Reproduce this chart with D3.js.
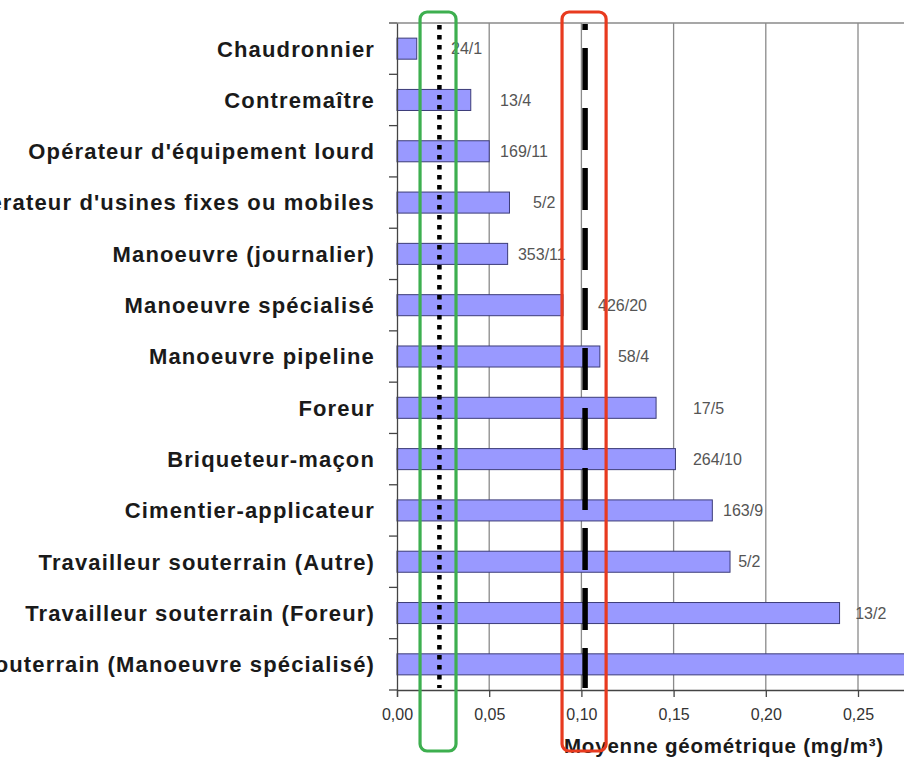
<!DOCTYPE html>
<html lang="fr">
<head>
<meta charset="utf-8">
<title>Moyenne géométrique par métier</title>
<script src="https://d3js.org/d3.v7.min.js"></script>
<style>
  body { margin: 0; background: #fff; }
  svg { display: block; font-family: "Liberation Sans", Arial, sans-serif; }
</style>
</head>
<body>
<div id="chart"></div>
<script>
// métiers (haut -> bas)
var categories = [
  "Chaudronnier",
  "Contremaître",
  "Opérateur d'équipement lourd",
  "Opérateur d'usines fixes ou mobiles",
  "Manoeuvre (journalier)",
  "Manoeuvre spécialisé",
  "Manoeuvre pipeline",
  "Foreur",
  "Briqueteur-maçon",
  "Cimentier-applicateur",
  "Travailleur souterrain (Autre)",
  "Travailleur souterrain (Foreur)",
  "Travailleur souterrain (Manoeuvre spécialisé)"
];
// moyenne géométrique (mg/m³)
var values = [0.0107, 0.040, 0.050, 0.061, 0.060, 0.090, 0.110, 0.1405, 0.151, 0.171, 0.1806, 0.240, 0.310];
// n / nombre de chantiers
var counts = ["24/1", "13/4", "169/11", "5/2", "353/11", "426/20", "58/4", "17/5", "264/10", "163/9", "5/2", "13/2", ""];
// where each count label sits, in mg/m³
var countAt = [0.0293, 0.0559, 0.0559, 0.0738, 0.0656, 0.109, 0.1198, 0.1605, 0.1605, 0.1768, 0.185, 0.2485, 0.32];
var xTicks = [0, 0.05, 0.10, 0.15, 0.20, 0.25];
// reference lines (mg/m³)
var dottedLine = 0.023;
var dashedLine = 0.102;
// highlight boxes [from, to] in mg/m³
var greenBox = [0.0125, 0.0320];
var redBox = [0.0895, 0.1134];

var W = 904, H = 761;
var margin = {top: 23, left: 397, bottom: 71};
var plotBottom = H - margin.bottom;

var svg = d3.select("#chart").append("svg")
    .attr("width", W)
    .attr("height", H);

var x = d3.scaleLinear().domain([0, 0.30]).range([margin.left, margin.left + 0.30 * 1844]);
var y = d3.scaleBand().domain(categories).range([margin.top, plotBottom])
    .paddingInner(0.59).paddingOuter(0.295);

var fr = d3.formatLocale({decimal: ",", thousands: " ", grouping: [3], currency: ["", " €"]});
var fmt = fr.format(".2f");

// gridlines
svg.append("g").selectAll("line")
  .data(xTicks.slice(1).concat([0.30]))
  .join("line")
    .attr("x1", d => x(d)).attr("x2", d => x(d))
    .attr("y1", margin.top).attr("y2", plotBottom)
    .attr("stroke", "#8a8a8a")
    .attr("stroke-width", 1.3);
svg.append("line")
    .attr("x1", margin.left).attr("x2", W)
    .attr("y1", margin.top).attr("y2", margin.top)
    .attr("stroke", "#8a8a8a")
    .attr("stroke-width", 1.3);

// bars
svg.append("g").selectAll("rect")
  .data(values)
  .join("rect")
    .attr("x", x(0))
    .attr("y", (d, i) => y(categories[i]))
    .attr("width", d => x(d) - x(0))
    .attr("height", y.bandwidth())
    .attr("fill", "#9999ff")
    .attr("stroke", "#3c3c78")
    .attr("stroke-width", 1);

// count labels
svg.append("g").selectAll("text")
  .data(counts)
  .join("text")
    .attr("x", (d, i) => x(countAt[i]))
    .attr("y", (d, i) => y(categories[i]) + y.bandwidth() / 2)
    .attr("dy", "0.36em")
    .attr("fill", "#555")
    .style("font-size", "16px")
    .text(d => d);

// y axis
var yAxis = svg.append("g")
    .attr("transform", "translate(" + margin.left + ",0)")
    .call(d3.axisLeft(y).tickSize(0).tickPadding(22));
yAxis.select(".domain").attr("stroke", "#444").attr("stroke-width", 1.3);
yAxis.selectAll("text")
    .attr("fill", "#1a1a1a")
    .style("font-size", "22px")
    .style("font-weight", "bold")
    .style("letter-spacing", "1.15px")
    .attr("dy", "0.36em");
// category separators on the axis
svg.append("g").selectAll("line")
  .data(d3.range(categories.length + 1))
  .join("line")
    .attr("x1", margin.left - 8).attr("x2", margin.left)
    .attr("y1", i => margin.top + i * y.step())
    .attr("y2", i => margin.top + i * y.step())
    .attr("stroke", "#444")
    .attr("stroke-width", 1.3);

// x axis
var xAxis = svg.append("g")
    .attr("transform", "translate(0," + plotBottom + ")")
    .call(d3.axisBottom(x).tickValues(xTicks).tickFormat(fmt).tickSize(7).tickPadding(12));
xAxis.select(".domain").attr("stroke", "#444").attr("stroke-width", 1.3);
xAxis.selectAll(".tick line").attr("stroke", "#444").attr("stroke-width", 1.3);
xAxis.selectAll("text")
    .attr("fill", "#333")
    .style("font-size", "16px");

svg.append("text")
    .attr("x", 724)
    .attr("y", 753)
    .attr("text-anchor", "middle")
    .attr("fill", "#1a1a1a")
    .style("font-size", "20.5px")
    .style("font-weight", "bold")
    .style("letter-spacing", "0.8px")
    .text("Moyenne géométrique (mg/m³)");

// reference lines
svg.append("line")
    .attr("x1", x(dottedLine)).attr("x2", x(dottedLine))
    .attr("y1", margin.top + 2).attr("y2", plotBottom - 2)
    .attr("stroke", "#000")
    .attr("stroke-width", 4.5)
    .attr("stroke-dasharray", "4.5,5.5");
svg.append("line")
    .attr("x1", x(dashedLine)).attr("x2", x(dashedLine))
    .attr("y1", margin.top + 1).attr("y2", plotBottom - 2)
    .attr("stroke", "#000")
    .attr("stroke-width", 5.5)
    .attr("stroke-dasharray", "42,18")
    .attr("stroke-dashoffset", 36);

// highlight boxes
function box(range, color) {
  svg.append("rect")
      .attr("x", x(range[0]))
      .attr("y", 12)
      .attr("width", x(range[1]) - x(range[0]))
      .attr("height", 739)
      .attr("rx", 7)
      .attr("fill", "none")
      .attr("stroke", color)
      .attr("stroke-width", 3.2);
}
box(greenBox, "#3daf4f");
box(redBox, "#e83a1f");
</script>
</body>
</html>
